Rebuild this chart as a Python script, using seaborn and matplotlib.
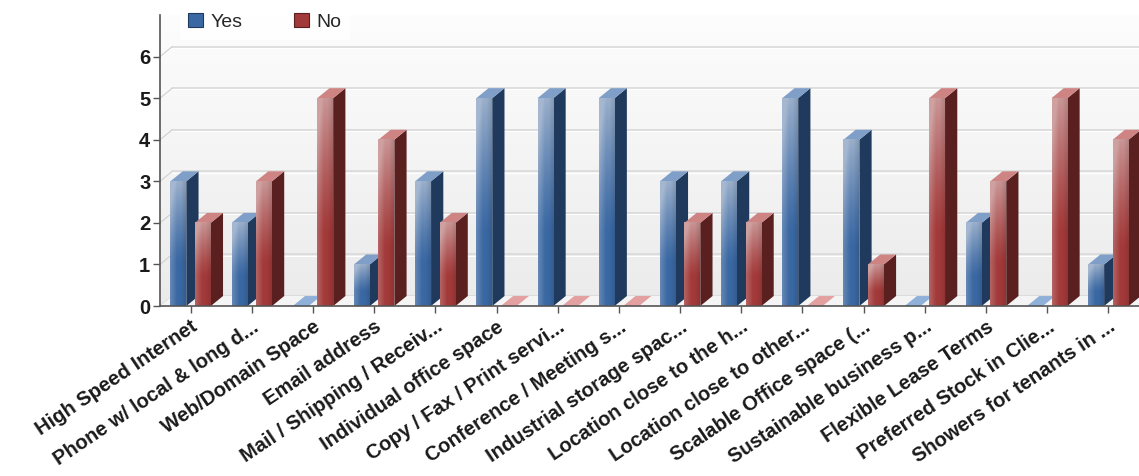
import numpy as np
import pandas as pd
import matplotlib
matplotlib.use("Agg")
import matplotlib.pyplot as plt
import seaborn as sns
from matplotlib.patches import Polygon, Rectangle
from matplotlib.colors import to_rgb

categories = ["High Speed Internet", "Phone w/ local & long d...", "Web/Domain Space",
              "Email address", "Mail / Shipping / Receiv...", "Individual office space",
              "Copy / Fax / Print servi...", "Conference / Meeting s...",
              "Industrial storage spac...", "Location close to the h...",
              "Location close to other...", "Scalable Office space (...",
              "Sustainable business p...", "Flexible Lease Terms",
              "Preferred Stock in Clie...", "Showers for tenants in ..."]
yes_values = [3, 2, 0, 1, 3, 5, 5, 5, 3, 3, 5, 4, 0, 2, 0, 1]
no_values = [2, 3, 5, 4, 2, 0, 0, 0, 2, 2, 0, 1, 5, 3, 5, 4]
series_names = ["Yes", "No"]
y_ticks = [0, 1, 2, 3, 4, 5, 6]

df = pd.DataFrame({
    "category": categories * 2,
    "answer": [series_names[0]] * len(categories) + [series_names[1]] * len(categories),
    "count": yes_values + no_values,
})

sns.set_theme(style="white")
plt.rcParams['font.family'] = ['Liberation Sans', 'DejaVu Sans']

W, H = 1139, 476
fig = plt.figure(figsize=(W / 100, H / 100), dpi=100)
ax = fig.add_axes([160 / W, 1 - 306 / H, (W - 160) / W, 291 / H])

styles = {
    "Yes": dict(front="#3a68a3", side="#1f3a5c", top="#7f9fc8", zero="#8fb1d9", light="#b9c6d8"),
    "No": dict(front="#a33a3a", side="#5a2020", top="#cf8484", zero="#e3a0a0", light="#d6b3b3"),
}
palette = {k: v["front"] for k, v in styles.items()}

sns.barplot(data=df, x="category", y="count", hue="answer", hue_order=series_names,
            palette=palette, saturation=1, width=0.8, gap=0.35, legend=False,
            ax=ax, zorder=3, linewidth=0)

XMIN, XMAX, YMIN, YMAX = -0.5, len(categories) - 0.5, 0, 7
DX, DY = 0.20, 0.24

# background gradient
bg = np.linspace(0, 1, 200)[:, None]
c_top = np.array(to_rgb("#fdfdfd"))
c_bot = np.array(to_rgb("#ebebeb"))
bgimg = (c_bot * (1 - bg) + c_top * bg)[:, :, None].transpose(0, 2, 1)
bgimg = np.repeat(bgimg, 2, axis=1)
ax.imshow(bgimg, extent=[0, 1, 0, 1], transform=ax.transAxes, origin="lower",
          aspect="auto", zorder=0)

# 3D gridlines on back wall
for yv in y_ticks:
    ax.plot([XMIN + DX, XMAX], [yv + DY, yv + DY], color="#d9d9d9", lw=1.2, zorder=1)
    ax.plot([XMIN + DX, XMAX], [yv + DY - 0.03, yv + DY - 0.03], color="#ffffff", lw=0.8, zorder=1)
    ax.plot([XMIN, XMIN + DX], [yv, yv + DY], color="#d0d0d0", lw=0.8, zorder=1)
# floor
ax.add_patch(Polygon([[XMIN, 0], [XMAX, 0], [XMAX, DY], [XMIN + DX, DY]],
                     closed=True, facecolor="#f4f4f4", edgecolor="none", zorder=1))


def face_image(front, light, n=80):
    base = np.array(to_rgb(front))
    lt = np.array(to_rgb(light))
    ys = np.linspace(0, 1, n)[:, None]
    xs = np.linspace(0, 1, n)[None, :]
    v = np.clip((ys - 0.35) / 0.65, 0, 1) ** 1.2 * 0.75
    hz = np.clip(1 - xs / 0.45, 0, 1) * 0.35
    l = np.clip(v + hz, 0, 0.85)
    dk = np.clip((xs - 0.65) / 0.35, 0, 1) * 0.12
    img = base[None, None, :] * (1 - l[..., None]) + lt[None, None, :] * l[..., None]
    img = img * (1 - dk[..., None])
    return np.clip(img, 0, 1)


patches = list(ax.patches)
n_cat = len(categories)
for i, p in enumerate(patches):
    series = series_names[i // n_cat] if i < 2 * n_cat else None
    if series is None:
        continue
    st = styles[series]
    x0 = p.get_x()
    w = p.get_width()
    h = p.get_height()
    x1 = x0 + w
    if h <= 0:
        ax.add_patch(Polygon([[x0, 0], [x1, 0], [x1 + DX, DY], [x0 + DX, DY]], closed=True,
                             facecolor=st["zero"], edgecolor="none", zorder=4))
        continue
    # side face
    ax.add_patch(Polygon([[x1, 0], [x1 + DX, DY], [x1 + DX, h + DY], [x1, h]], closed=True,
                         facecolor=st["side"], edgecolor="none", zorder=4))
    # top face
    ax.add_patch(Polygon([[x0, h], [x1, h], [x1 + DX, h + DY], [x0 + DX, h + DY]], closed=True,
                         facecolor=st["top"], edgecolor="none", zorder=4))
    # front gradient
    ax.imshow(face_image(st["front"], st["light"]), extent=[x0, x1, 0, h], origin="lower",
              aspect="auto", zorder=5, interpolation="bilinear")

ax.set_xlim(XMIN, XMAX)
ax.set_ylim(YMIN, YMAX)
ax.set_aspect("auto")
ax.set_xlabel("")
ax.set_ylabel("")
ax.set_yticks(y_ticks)
ax.set_yticklabels([str(t) for t in y_ticks], fontsize=14.5, fontweight="bold", color="#1a1a1a")
ax.set_xticks(range(n_cat))
ax.set_xticklabels(categories, rotation=34, ha="right", rotation_mode="anchor",
                   fontsize=14.5, fontweight="bold", color="#1a1a1a")
ax.tick_params(axis="y", which="major", left=True, length=5, width=1, color="#555555", pad=2)
ax.tick_params(axis="x", which="major", bottom=True, length=5, width=1, color="#555555", pad=3)
for s in ["top", "right"]:
    ax.spines[s].set_visible(False)
for s in ["left", "bottom"]:
    ax.spines[s].set_color("#555555")
    ax.spines[s].set_linewidth(1.2)
    ax.spines[s].set_zorder(6)

handles = [Rectangle((0, 0), 1, 1, facecolor=styles[s]["front"], edgecolor=styles[s]["side"], lw=0.8)
           for s in series_names]
leg = fig.legend(handles, series_names, loc="center left", bbox_to_anchor=(170 / W, 1 - 22 / H),
                 ncol=2, frameon=True, fontsize=14, handlelength=0.75, handleheight=0.75,
                 handletextpad=0.4, columnspacing=2.65, borderpad=0.45, fancybox=False)
leg.get_frame().set_facecolor("#ffffff")
leg.get_frame().set_edgecolor("none")
leg.get_frame().set_alpha(0.9)

fig.savefig("out.png", dpi=100)
